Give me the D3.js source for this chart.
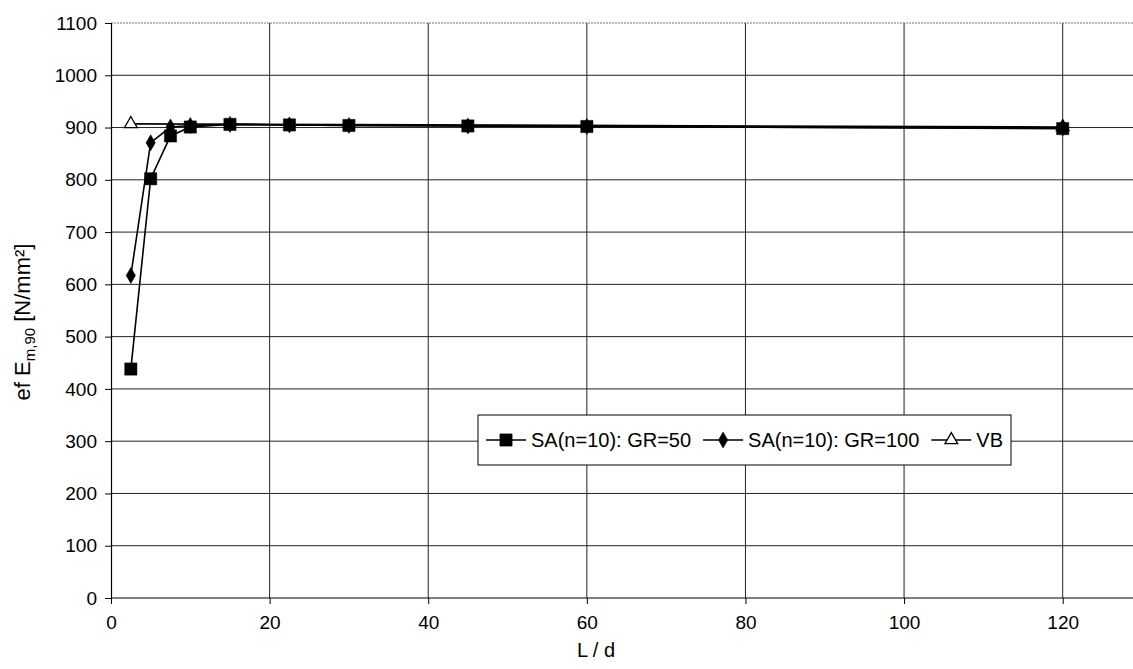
<!DOCTYPE html>
<html>
<head>
<meta charset="utf-8">
<script src="https://cdn.jsdelivr.net/npm/d3@7/dist/d3.min.js"></script>
<style>
  html, body { margin: 0; padding: 0; background: #fff; }
  svg { display: block; font-family: "Liberation Sans", Arial, sans-serif; }
</style>
</head>
<body>
<svg id="chart" width="1133" height="669"></svg>
<script>
// ---- data ----
const ldValues = [2.5, 5, 7.5, 10, 15, 22.5, 30, 45, 60, 120];
const gr50 = [438, 802, 884, 901, 906, 905, 904, 903, 902, 898];
const gr100 = [617, 871, 901, 904, 906, 905, 904, 903, 902, 899];
const vbX = [2.5, 120];
const vb = [907, 901];
const seriesNames = ["SA(n=10): GR=50", "SA(n=10): GR=100", "VB"];
const xTicks = [0, 20, 40, 60, 80, 100, 120];
const yTicks = [0, 100, 200, 300, 400, 500, 600, 700, 800, 900, 1000, 1100];
const xTitle = "L / d";

const svg = d3.select("#chart");
const x = d3.scaleLinear().domain([0, 130]).range([111, 1142]);
const y = d3.scaleLinear().domain([0, 1100]).range([598, 23]);

// gridlines
svg.append("g").selectAll("line.h").data(yTicks.filter(d => d > 0)).join("line")
  .attr("x1", x(0)).attr("x2", 1133)
  .attr("y1", d => y(d)).attr("y2", d => y(d))
  .attr("stroke", d => d === 1100 ? "#777" : "#222")
  .attr("stroke-width", 1)
  .attr("stroke-dasharray", d => d === 1100 ? "2,1" : null);
svg.append("g").selectAll("line.v").data(xTicks.filter(d => d > 0)).join("line")
  .attr("x1", d => x(d)).attr("x2", d => x(d))
  .attr("y1", y(1100)).attr("y2", y(0))
  .attr("stroke", "#222").attr("stroke-width", 1);

// axes
const xAxis = d3.axisBottom(x).tickValues(xTicks).tickSize(6).tickPadding(12).tickFormat(d3.format("d"));
const gx = svg.append("g").attr("transform", `translate(0,${y(0)})`).call(xAxis);
const yAxis = d3.axisLeft(y).tickValues(yTicks).tickSize(6).tickPadding(8).tickFormat(d3.format("d"));
const gy = svg.append("g").attr("transform", `translate(${x(0)},0)`).call(yAxis);
[gx, gy].forEach(g => {
  g.select(".domain").attr("stroke", "#000").attr("stroke-width", 1.2);
  g.selectAll(".tick line").attr("stroke", "#000");
  g.selectAll(".tick text").attr("fill", "#000").attr("font-size", 19)
    .attr("font-family", "'Liberation Sans', Arial, sans-serif");
});
gx.select(".domain").attr("d", `M${x(0)},0H1133`);

// series
const line = d3.line().x(d => x(d[0])).y(d => y(d[1]));
const zip = (xs, vals) => xs.map((v, i) => [v, vals[i]]);
const sym = {
  square: d3.symbol().type(d3.symbolSquare).size(150),
  diamond: d3.symbol().type(d3.symbolDiamond).size(75),
  triangle: d3.symbol().type(d3.symbolTriangle).size(70)
};

function drawSeries(xs, vals, shape, fill) {
  const pts = zip(xs, vals);
  svg.append("path").datum(pts).attr("d", line)
    .attr("fill", "none").attr("stroke", "#000").attr("stroke-width", 1.6);
  svg.append("g").selectAll("path").data(pts).join("path")
    .attr("transform", d => `translate(${x(d[0])},${y(d[1])})`)
    .attr("d", sym[shape])
    .attr("fill", fill).attr("stroke", "#000").attr("stroke-width", shape === "triangle" ? 1.3 : 0.5);
}
drawSeries(vbX, vb, "triangle", "#fff");
drawSeries(ldValues, gr100, "diamond", "#000");
drawSeries(ldValues, gr50, "square", "#000");

// legend
const lg = svg.append("g");
const legX = 478, legY = 415, legH = 50;
const items = [
  {name: seriesNames[0], shape: "square", fill: "#000"},
  {name: seriesNames[1], shape: "diamond", fill: "#000"},
  {name: seriesNames[2], shape: "triangle", fill: "#fff"}
];
let cx = legX + 8;
const cy = legY + legH / 2;
const rect = lg.append("rect").attr("x", legX).attr("y", legY).attr("height", legH)
  .attr("fill", "#fff").attr("stroke", "#000").attr("stroke-width", 1);
items.forEach(it => {
  lg.append("line").attr("x1", cx).attr("x2", cx + 40).attr("y1", cy).attr("y2", cy)
    .attr("stroke", "#000").attr("stroke-width", 1.6);
  lg.append("path").attr("transform", `translate(${cx + 20},${cy})`).attr("d", sym[it.shape])
    .attr("fill", it.fill).attr("stroke", "#000").attr("stroke-width", it.shape === "triangle" ? 1.3 : 0.5);
  const t = lg.append("text").attr("x", cx + 45).attr("y", cy).attr("dy", "0.35em")
    .attr("font-size", 20).text(it.name);
  cx += 45 + t.node().getComputedTextLength() + 12;
});
rect.attr("width", cx - legX - 4);

// axis titles
svg.append("text").attr("x", 596).attr("y", 657).attr("text-anchor", "middle")
  .attr("font-size", 20).text(xTitle);
const yt = svg.append("text").attr("transform", `translate(30,322) rotate(-90)`)
  .attr("text-anchor", "middle").attr("font-size", 22);
yt.append("tspan").text("ef E");
yt.append("tspan").attr("font-size", 15).attr("dy", 5).text("m,90");
yt.append("tspan").attr("dy", -5).text(" [N/mm²]");
</script>
</body>
</html>
